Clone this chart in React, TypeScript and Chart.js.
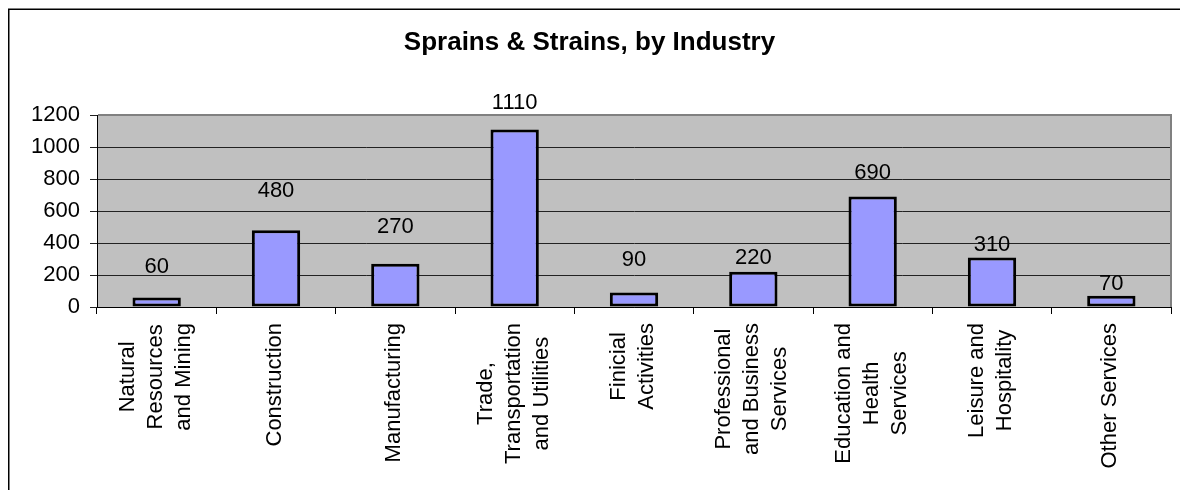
import React, { useEffect, useRef } from "react";
import { Chart, registerables } from "chart.js";

Chart.register(...registerables);

const FONT = "'Liberation Sans', Arial, sans-serif";

const chartTitle = "Sprains & Strains, by Industry";

const categories: string[][] = [
  ["Natural", "Resources", "and Mining"],
  ["Construction"],
  ["Manufacturing"],
  ["Trade,", "Transportation", "and Utilities"],
  ["Finicial", "Activities"],
  ["Professional", "and Business", "Services"],
  ["Education and", "Health", "Services"],
  ["Leisure and", "Hospitality"],
  ["Other Services"],
];

const values = [60, 480, 270, 1110, 90, 220, 690, 310, 70];

// value level (in axis units) at which each data label sits, as placed in the original
const labelLevels = [250, 724, 500, 1276, 297, 305, 835, 386, 144];

const yMin = 0;
const yMax = 1200;
const yStep = 200;

const W = 1180;
const H = 482;

const decorPlugin = {
  id: "decor",
  beforeDraw(chart: any) {
    const { ctx, chartArea } = chart;
    ctx.save();
    ctx.fillStyle = "#C0C0C0";
    ctx.fillRect(chartArea.left, chartArea.top, chartArea.right - chartArea.left, chartArea.bottom - chartArea.top);
    ctx.restore();
  },
  beforeDatasetsDraw(chart: any) {
    const { ctx, chartArea } = chart;
    ctx.save();
    ctx.strokeStyle = "#808080";
    ctx.lineWidth = 2;
    ctx.beginPath();
    ctx.moveTo(chartArea.left + 1, chartArea.top);
    ctx.lineTo(chartArea.right, chartArea.top);
    ctx.lineTo(chartArea.right, chartArea.bottom);
    ctx.stroke();
    ctx.restore();
  },
  afterDatasetsDraw(chart: any) {
    const { ctx } = chart;
    const meta = chart.getDatasetMeta(0);
    const ys = chart.scales.y;
    ctx.save();
    ctx.font = `22px ${FONT}`;
    ctx.fillStyle = "#000";
    ctx.textAlign = "center";
    ctx.textBaseline = "middle";
    meta.data.forEach((bar: any, i: number) => {
      ctx.fillText(String(values[i]), bar.x, ys.getPixelForValue(labelLevels[i]));
    });
    ctx.restore();
  },
  afterDraw(chart: any) {
    const { ctx, chartArea } = chart;
    const xs = chart.scales.x;
    ctx.save();
    ctx.font = `22px ${FONT}`;
    ctx.fillStyle = "#000";
    ctx.textAlign = "center";
    ctx.textBaseline = "middle";
    const lineH = 28;
    const top = chartArea.bottom + 16;
    categories.forEach((lines, i) => {
      const x = xs.getPixelForTick(i) - 1;
      const maxW = Math.max(...lines.map((l) => ctx.measureText(l).width));
      const cy = top + maxW / 2;
      lines.forEach((l, j) => {
        const off = (j - (lines.length - 1) / 2) * lineH;
        ctx.save();
        ctx.translate(x + off, cy);
        ctx.rotate(-Math.PI / 2);
        ctx.fillText(l, 0, 0);
        ctx.restore();
      });
    });
    // outer frame (left and top edges)
    ctx.strokeStyle = "#000";
    ctx.lineWidth = 1.5;
    ctx.beginPath();
    ctx.moveTo(0.75, H);
    ctx.lineTo(0.75, 1.25);
    ctx.lineTo(W, 1.25);
    ctx.stroke();
    ctx.restore();
  },
};

export default function App() {
  const ref = useRef<HTMLCanvasElement>(null);

  useEffect(() => {
    document.documentElement.style.overflow = "hidden";
    document.body.style.overflow = "hidden";
    if (!ref.current) return;
    const chart = new Chart(ref.current, {
      type: "bar",
      data: {
        labels: categories,
        datasets: [
          {
            data: values,
            backgroundColor: "#9999FF",
            borderColor: "#000000",
            borderWidth: 3,
            borderSkipped: false,
            barPercentage: 0.405,
            categoryPercentage: 1,
          },
        ],
      },
      options: {
        responsive: false,
        animation: false,
        layout: { padding: { left: 0, right: 17, top: 0, bottom: 0 } },
        plugins: {
          legend: { display: false },
          tooltip: { enabled: false },
          title: {
            display: true,
            text: chartTitle,
            color: "#000",
            font: { family: FONT, size: 26, weight: "bold", lineHeight: 1.2 },
            padding: { top: 19, bottom: 56.8 },
          },
        },
        scales: {
          x: {
            type: "category",
            offset: true,
            grid: {
              display: true,
              offset: true,
              drawOnChartArea: false,
              drawTicks: true,
              tickLength: 7,
              color: "#000",
              lineWidth: 1,
            },
            border: { display: true, color: "#000", width: 1 },
            ticks: { display: false },
            afterFit(scale: any) {
              scale.height = 183;
            },
          },
          y: {
            min: yMin,
            max: yMax,
            ticks: {
              stepSize: yStep,
              color: "#000",
              padding: 10,
              font: { family: FONT, size: 22 },
              callback: (v: any) => String(v),
            },
            grid: {
              color: "#222",
              lineWidth: 1,
              drawTicks: true,
              tickLength: 7,
            },
            border: { display: true, color: "#000", width: 1 },
            afterFit(scale: any) {
              scale.width = 89;
            },
          },
        },
      },
      plugins: [decorPlugin],
    });
    return () => chart.destroy();
  }, []);

  return (
    <div style={{ width: W, height: H }}>
      <canvas ref={ref} width={W} height={H} style={{ display: "block", width: W, height: H }} />
    </div>
  );
}
